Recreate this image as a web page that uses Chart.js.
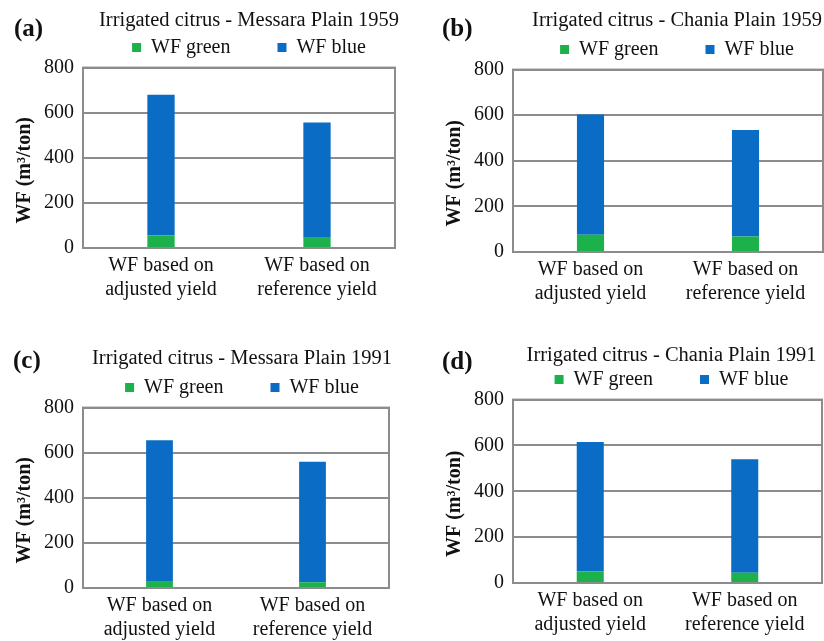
<!DOCTYPE html>
<html>
<head>
<meta charset="utf-8">
<script src="https://cdn.jsdelivr.net/npm/chart.js@4/dist/chart.umd.min.js"></script>
<style>
  html, body { margin: 0; padding: 0; background: #fff; overflow: hidden; }
  .panel { position: absolute; }
</style>
</head>
<body>
<div class="panel" id="pa"><canvas id="ca"></canvas></div>
<div class="panel" id="pb"><canvas id="cb"></canvas></div>
<div class="panel" id="pc"><canvas id="cc"></canvas></div>
<div class="panel" id="pd"><canvas id="cd"></canvas></div>
<script>
const categories = [["WF based on", "adjusted yield"], ["WF based on", "reference yield"]]
const seriesNames = ["WF green", "WF blue"]
const yTicks = [0, 200, 400, 600, 800]

// per panel values, order: adjusted yield, reference yield
const titles = [
  "Irrigated citrus - Messara Plain 1959",
  "Irrigated citrus - Chania Plain 1959",
  "Irrigated citrus - Messara Plain 1991",
  "Irrigated citrus - Chania Plain 1991"
]
const letters = ["(a)", "(b)", "(c)", "(d)"]
const greenA = [55, 45]
const blueA = [625, 512]
const greenB = [76, 68]
const blueB = [527, 467]
const greenC = [28, 25]
const blueC = [627, 535]
const greenD = [50, 45]
const blueD = [565, 495]

const GREEN = '#1db14b'
const BLUE = '#0a6cc4'
const GRID = '#8c8c8c'
const FONT = '"Liberation Serif", "Times New Roman", serif'

// layout of each panel in page pixels
const panels = [
  { id: 'a', green: greenA, blue: blueA, x: 0, y: 0, plotL: 83, plotR: 395, plotT: 67, plotB: 248, titleY: 20, letterX: 14, letterY: 30, shift: 10 },
  { id: 'b', green: greenB, blue: blueB, x: 430, y: 0, plotL: 513, plotR: 823, plotT: 69, plotB: 252, titleY: 20, letterX: 442, letterY: 30, shift: 9 },
  { id: 'c', green: greenC, blue: blueC, x: 0, y: 330, plotL: 83, plotR: 389, plotT: 407, plotB: 588, titleY: 358, letterX: 13, letterY: 362, shift: 6 },
  { id: 'd', green: greenD, blue: blueD, x: 430, y: 330, plotL: 513, plotR: 822, plotT: 399, plotB: 583, titleY: 355, letterX: 442, letterY: 363, shift: 4 }
]

const frame = {
  id: 'frame',
  beforeDraw(chart, args, opts) {
    const ctx = chart.ctx
    ctx.save()
    ctx.font = 'bold 25px ' + FONT
    ctx.fillStyle = '#111'
    ctx.textBaseline = 'middle'
    ctx.textAlign = 'left'
    ctx.fillText(opts.letter, opts.lx, opts.ly)
    ctx.restore()
  },
  afterDraw(chart) {
    const a = chart.chartArea
    const ctx = chart.ctx
    ctx.save()
    ctx.strokeStyle = GRID
    ctx.lineWidth = 2
    ctx.strokeRect(a.left, a.top, a.right - a.left, a.bottom - a.top)
    ctx.restore()
  }
}

panels.forEach((p, i) => {
  const yW = p.plotL - p.x
  const extra = yW + 2 * p.shift
  const width = yW + (p.plotR - p.plotL) + extra
  const plotTop = p.plotT - p.y
  const xH = 62
  const height = (p.plotB - p.y) + xH
  const legendTop = plotTop - 32
  const titleY = p.titleY - p.y

  const wrap = document.getElementById('p' + p.id)
  wrap.style.left = p.x + 'px'
  wrap.style.top = p.y + 'px'
  wrap.style.width = width + 'px'
  wrap.style.height = height + 'px'

  new Chart(document.getElementById('c' + p.id), {
    type: 'bar',
    data: {
      labels: categories,
      datasets: [
        { label: seriesNames[0], data: p.green, backgroundColor: GREEN },
        { label: seriesNames[1], data: p.blue, backgroundColor: BLUE }
      ]
    },
    plugins: [frame],
    options: {
      responsive: true,
      maintainAspectRatio: false,
      animation: false,
      layout: { padding: 0 },
      datasets: {
        bar: { categoryPercentage: 1, barPercentage: 0.175 }
      },
      plugins: {
        tooltip: { enabled: false },
        frame: { letter: letters[i], lx: p.letterX - p.x, ly: p.letterY - p.y },
        title: {
          display: true,
          text: titles[i],
          color: '#111',
          font: { family: FONT, size: 20.5, weight: 'normal', lineHeight: 1.2 },
          padding: { top: titleY - 12, bottom: legendTop - titleY - 12 }
        },
        legend: {
          display: true,
          labels: {
            color: '#111',
            font: { family: FONT, size: 20 },
            boxWidth: 9,
            boxHeight: 9,
            padding: 2,
            generateLabels(chart) {
              const items = Chart.defaults.plugins.legend.labels.generateLabels(chart)
              // wide gap between the two legend entries
              items[0].text = items[0].text + '         '
              items.forEach(it => { it.lineWidth = 0 })
              return items
            }
          }
        }
      },
      scales: {
        x: {
          stacked: true,
          grid: { display: false, drawTicks: false },
          border: { display: true, color: GRID, width: 2 },
          ticks: {
            color: '#111',
            padding: 6,
            maxRotation: 0,
            font: { family: FONT, size: 20, lineHeight: 1.2 }
          },
          afterFit(s) { s.height = xH }
        },
        y: {
          stacked: true,
          min: 0,
          max: 800,
          afterBuildTicks(s) { s.ticks = yTicks.map(v => ({ value: v })) },
          grid: { color: GRID, lineWidth: 2, drawTicks: false },
          border: { display: true, color: GRID, width: 2 },
          ticks: {
            color: '#111',
            padding: 9,
            font: { family: FONT, size: 20 }
          },
          title: {
            display: true,
            text: 'WF (m³/ton)     ',
            color: '#111',
            padding: { top: 13, bottom: 0 },
            font: { family: FONT, size: 20, weight: 'bold', lineHeight: 1.2 }
          },
          afterFit(s) { s.width = yW }
        },
        y2: {
          position: 'right',
          display: true,
          grid: { display: false, drawTicks: false },
          border: { display: false },
          ticks: { display: false },
          afterFit(s) { s.width = extra }
        }
      }
    }
  })
})
</script>
</body>
</html>
